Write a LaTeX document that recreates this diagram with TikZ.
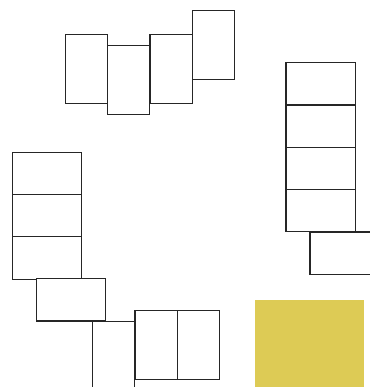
\documentclass[tikz,border=0pt]{standalone}
\usepackage{tikz}
\usetikzlibrary{positioning}
\definecolor{mustard}{HTML}{DDCB55}
\tikzset{
  tall/.style={rectangle, draw=black!85, line width=0.8pt, fill=white, minimum width=31.7pt, minimum height=51.8pt, inner sep=0pt, outer sep=0pt},
  wide/.style={rectangle, draw=black!85, line width=0.8pt, fill=white, minimum width=51.8pt, minimum height=31.7pt, inner sep=0pt, outer sep=0pt},
  block/.style={rectangle, fill=mustard, minimum width=81.8pt, minimum height=66pt, inner sep=0pt, outer sep=0pt},
}

\begin{document}
\begin{tikzpicture}[x=0.75pt, y=-0.75pt]
\useasboundingbox (0,0) rectangle (370,387);
\clip (0,0) rectangle (370,387);
% top row
\node[tall, anchor=north west] (top1) at (65.3,34.3) {};
\node[tall, anchor=north west] (top2) at (107.6,45.3) {};
\node[tall, anchor=north west] (top3) at (150,34.3) {};
\node[tall, anchor=north west] (top4) at (192.3,10.7) {};
% right column
\node[wide, anchor=north west] (right1) at (286,62.7) {};
\node[wide, below=0pt of right1] (right2) {};
\node[wide, below=0pt of right2] (right3) {};
\node[wide, below=0pt of right3] (right4) {};
\node[wide, anchor=north west] (right5) at (310,232) {};
% left column
\node[wide, anchor=north west] (left1) at (12.7,152.3) {};
\node[wide, below=0pt of left1] (left2) {};
\node[wide, below=0pt of left2] (left3) {};
\node[wide, anchor=north west] (left4) at (36.3,278.7) {};
% bottom row
\node[tall, anchor=north west] (bot1) at (92.7,321.5) {};
\node[tall, anchor=north west] (bot2) at (135,310.7) {};
\node[tall, right=0pt of bot2] (bot3) {};
% filled block
\node[block, anchor=north west] (fill) at (255,300) {};
\end{tikzpicture}
\end{document}
